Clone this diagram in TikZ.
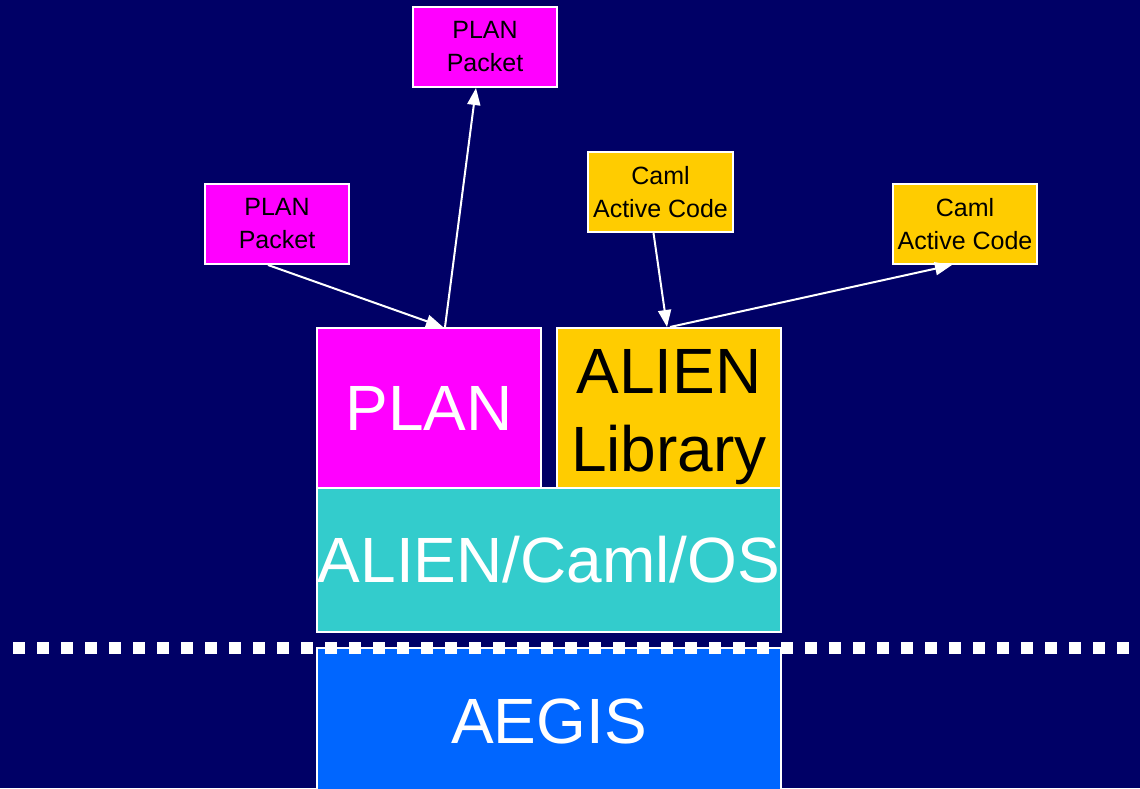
\documentclass[tikz,border=0pt]{standalone}
\usepackage{fontspec}
\setmainfont{Liberation Sans}
\usetikzlibrary{arrows.meta}
\definecolor{bgnavy}{HTML}{000066}
\definecolor{planmag}{HTML}{FF00FF}
\definecolor{camlgold}{HTML}{FFCC00}
\definecolor{osteal}{HTML}{33CCCC}
\definecolor{aegisblue}{HTML}{0066FF}
\begin{document}
\begin{tikzpicture}[x=1pt,y=-1pt,
  box/.style={draw=white,line width=2pt,inner sep=0pt,align=center},
  smallbox/.style={box,minimum width=144pt,minimum height=80pt,
    font=\fontsize{25}{33}\selectfont,text=black},
  bigtext/.style={font=\fontsize{64}{78}\selectfont,inner sep=0pt,align=center},
  flow/.style={draw=white,line width=2pt,-{Triangle[length=17pt,width=13pt]}}]
  % canvas
  \fill[bgnavy] (0,0) rectangle (1140,788);
  \useasboundingbox (0,0) rectangle (1140,788);

  % packets and code fragments
  \node[smallbox,fill=planmag] (pp1) at (485,47) {PLAN\\Packet};
  \node[smallbox,fill=planmag] (pp2) at (277,224) {PLAN\\Packet};
  \node[smallbox,fill=camlgold,minimum width=145pt] (ca1) at (660.5,192) {Caml\\Active Code};
  \node[smallbox,fill=camlgold] (ca2) at (965,224) {Caml\\Active Code};

  % layered system
  \node[box,bigtext,fill=planmag,text=white,minimum width=224pt,minimum height=160pt] (plan) at (429,408) {PLAN};
  \node[box,fill=camlgold,minimum width=224pt,minimum height=160pt] (lib) at (669,408) {};
  \node[bigtext,text=black] (liblabel) at (669,417) {ALIEN\\Library};
  \node[box,bigtext,fill=osteal,text=white,minimum width=464pt,minimum height=144pt] (os) at (549,560) {ALIEN/Caml/OS};
  \begin{scope}
    \clip (0,0) rectangle (1140,788);
    \node[box,fill=aegisblue,minimum width=464pt,minimum height=160pt] (aegis) at (549,728) {};
  \end{scope}
  \node[bigtext,text=white] (aegislabel) at (549,721) {AEGIS};

  % boundary between layers
  \coordinate (sepL) at (13,648);
  \coordinate (sepR) at (1130,648);
  \draw[white,line width=12pt,dash pattern=on 12pt off 12pt] (sepL) -- (sepR);

  % packet and code flows
  \draw[flow] ([xshift=-9pt]pp2.south) -- ([xshift=14pt]plan.north);
  \draw[flow] ([xshift=16pt]plan.north) -- ([xshift=-9pt]pp1.south);
  \draw[flow] ([xshift=-7pt]ca1.south) -- ([xshift=-2pt]lib.north);
  \draw[flow] ([xshift=1pt]lib.north) -- ([xshift=-13pt]ca2.south);
\end{tikzpicture}
\end{document}
